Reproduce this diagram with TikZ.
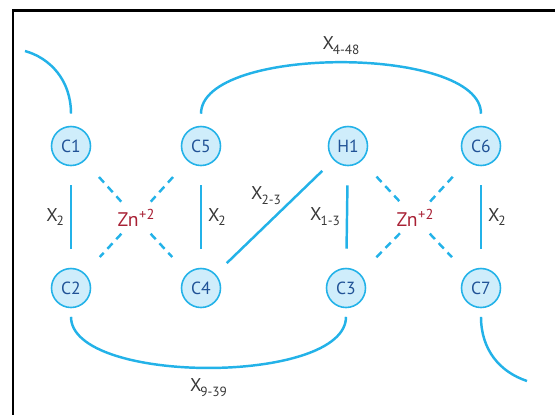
\documentclass[tikz,border=0pt]{standalone}
\usepackage{fontspec}
\setmainfont{PT Sans}
\usepackage{tikz}
\usetikzlibrary{positioning}

\newcommand{\bondx}[1]{X\kern-0.6pt\raisebox{-2.8pt}{\fontsize{7.6}{8}\selectfont #1}}
\newcommand{\zincion}{Zn\kern0.3pt\raisebox{3.8pt}{\fontsize{8.2}{9}\selectfont +2}}

\begin{document}
\begin{tikzpicture}[
  execute at begin picture={
    \definecolor{bondcyan}{RGB}{35,178,232}
    \definecolor{atomfill}{RGB}{207,237,251}
    \definecolor{atomtext}{RGB}{32,82,150}
    \definecolor{zincred}{RGB}{168,32,52}
    \definecolor{labelgray}{RGB}{55,55,55}
  },
  x=0.02cm, y=-0.02cm,
  atom/.style={
    circle,
    draw=bondcyan,
    line width=0.9pt,
    fill=atomfill,
    text=atomtext,
    minimum size=0.78cm,
    inner sep=0pt,
    font=\fontsize{10}{11}\selectfont
  },
  bond/.style={draw=bondcyan, line width=1.4pt, shorten <=0.38cm, shorten >=0.38cm},
  zdash/.style={draw=bondcyan, line width=1.4pt, dash pattern=on 0.15cm off 0.11cm,
    shorten <=0.43cm, shorten >=0.44cm},
  arch/.style={draw=bondcyan, line width=1.4pt},
  bondlabel/.style={text=labelgray, font=\fontsize{10.5}{12}\selectfont},
  zinc/.style={text=zincred, font=\fontsize{11.2}{12}\selectfont, inner sep=0pt}
]
\useasboundingbox (0,0) rectangle (555,414);

% frame
\draw[line width=1.7pt] (13,430) -- (13,10.5) -- (570,10.5);

% atoms
\node[atom] (c1) at (71,146) {C1};
\node[atom] (c5) at (201,146) {C5};
\node[atom] (h1) at (348,146) {H1};
\node[atom] (c6) at (481,146) {C6};
\node[atom] (c2) at (71,288) {C2};
\node[atom] (c4) at (201,288) {C4};
\node[atom] (c3) at (346,288) {C3};
\node[atom] (c7) at (481,288) {C7};

\node[zinc] (zn1) at (136,218) {\zincion};
\node[zinc] (zn2) at (415,218) {\zincion};

% bonds
\draw[bond] (c1) -- node[bondlabel, left] {\bondx{2}} (c2);
\draw[bond] (c5) -- node[bondlabel, right] {\bondx{2}} (c4);
\draw[bond] (h1) -- node[bondlabel, left] {\bondx{1-3}} (c3);
\draw[bond] (c6) -- node[bondlabel, right] {\bondx{2}} (c7);
\draw[bond, shorten <=0.31cm, shorten >=0.31cm] (c4) --
  node[bondlabel, pos=0.58, anchor=south east, inner sep=1pt] {\bondx{2-3}} (h1);

% zinc coordination
\draw[zdash] (c1) -- (zn1.center);
\draw[zdash] (zn1.center) -- (c4);
\draw[zdash] (c5) -- (zn1.center);
\draw[zdash] (zn1.center) -- (c2);
\draw[zdash] (h1) -- (zn2.center);
\draw[zdash] (zn2.center) -- (c7);
\draw[zdash] (c6) -- (zn2.center);
\draw[zdash] (zn2.center) -- (c3);

% loops
\draw[arch, shorten <=0.24cm, shorten >=0.24cm]
  (c5) .. controls +(0,-101) and +(0,-101) .. node[bondlabel, above=2pt] {\bondx{4-48}} (c6);
\draw[arch, shorten <=0.17cm, shorten >=0.17cm]
  (c2) .. controls +(0,97) and +(0,97) .. node[bondlabel, below=3pt] {\bondx{9-39}} (c3);

\coordinate (tailin) at (25,51);
\coordinate (tailout) at (527,381);
\draw[arch, shorten >=0.24cm] (tailin) .. controls +(25,7) and +(0,-66) .. (c1);
\draw[arch, shorten <=0.17cm] (c7) .. controls +(0,62) and +(-27,-9) .. (tailout);

\end{tikzpicture}
\end{document}
